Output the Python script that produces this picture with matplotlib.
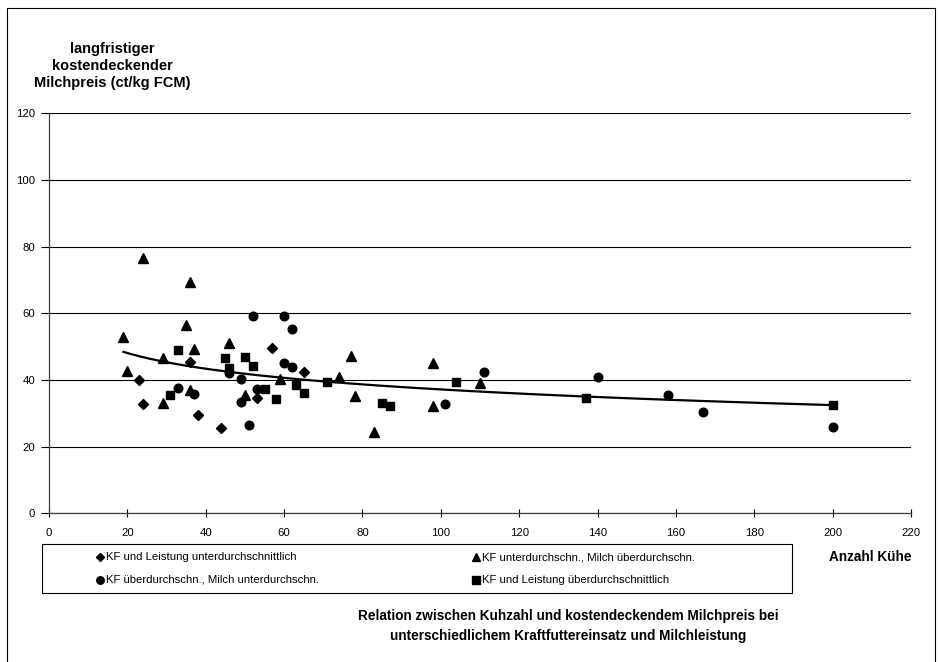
import numpy as np
import matplotlib
matplotlib.use("Agg")
import matplotlib.pyplot as plt
from matplotlib.patches import Rectangle
from matplotlib.lines import Line2D

plt.rcParams['font.family'] = ['Liberation Sans', 'DejaVu Sans']

# ---------------- data ----------------
series_names = [
    "KF und Leistung unterdurchschnittlich",
    "KF überdurchschn., Milch unterdurchschn.",
    "KF unterdurchschn., Milch überdurchschn.",
    "KF und Leistung überdurchschnittlich",
]

diamond_x = [23, 24, 36, 38, 44, 53, 57, 65]
diamond_y = [40.0, 32.7, 45.4, 29.5, 25.5, 34.5, 49.5, 42.3]

triangle_x = [19, 20, 24, 29, 29, 35, 36, 37, 36, 46, 50, 59, 74, 77, 78, 83, 98, 98, 110]
triangle_y = [53.0, 42.8, 76.5, 46.5, 33.0, 56.5, 69.3, 49.2, 37.0, 51.0, 35.5, 40.3,
              40.8, 47.2, 35.2, 24.3, 45.2, 32.3, 39.0]

circle_x = [33, 37, 46, 49, 49, 51, 52, 53, 60, 60, 62, 62, 101, 111, 140, 158, 167, 200]
circle_y = [37.5, 35.8, 42.2, 40.2, 33.5, 26.5, 59.3, 37.2, 59.3, 45.0, 55.3, 44.0,
            32.8, 42.3, 41.0, 35.5, 30.5, 25.8]

square_x = [31, 33, 45, 46, 50, 52, 55, 58, 63, 65, 71, 85, 87, 104, 137, 200]
square_y = [35.5, 49.0, 46.5, 43.5, 46.8, 44.2, 37.2, 34.3, 38.5, 36.2, 39.5, 33.2,
            32.3, 39.3, 34.5, 32.5]

x_ticks = list(range(0, 221, 20))
y_ticks = list(range(0, 121, 20))

y_title = "langfristiger\nkostendeckender\nMilchpreis (ct/kg FCM)"
x_title = "Anzahl Kühe"
chart_title = ("Relation zwischen Kuhzahl und kostendeckendem Milchpreis bei\n"
               "unterschiedlichem Kraftfuttereinsatz und Milchleistung")

# ---------------- layout helpers ----------------
W, H = 938, 662
fig = plt.figure(figsize=(W / 100, H / 100), dpi=100)
fig.patch.set_facecolor("white")


def fx(px):
    return px / W


def fy(py):
    return 1 - py / H


# outer chart frame
fig.add_artist(Rectangle((fx(7), fy(720)), fx(935) - fx(7), fy(8) - fy(720),
                         fill=False, edgecolor="black", lw=0.8,
                         transform=fig.transFigure))

left, right, top, bottom = 49, 911, 113.3, 513.3
ax = fig.add_axes([fx(left), fy(bottom), (right - left) / W, (bottom - top) / H])

ax.set_xlim(0, 220)
ax.set_ylim(0, 120)
ax.set_xticks(x_ticks)
ax.set_yticks(y_ticks)
ax.set_xticklabels([str(v) for v in x_ticks])
ax.set_yticklabels([str(v) for v in y_ticks])
ax.yaxis.grid(True, color="black", lw=0.8)
ax.set_axisbelow(True)
for s in ("top", "right"):
    ax.spines[s].set_visible(False)
for s in ("left", "bottom"):
    ax.spines[s].set_color("#404040")
    ax.spines[s].set_linewidth(0.9)
ax.tick_params(axis="x", direction="inout", length=6, width=0.8, pad=7.5,
               labelsize=8.2, colors="black")
ax.tick_params(axis="y", direction="out", length=5.5, width=0.8, pad=4.5,
               labelsize=8.2, colors="black")

ms = dict(color="black", linestyle="none")
ax.plot(diamond_x, diamond_y, marker="D", markersize=5.2, **ms, zorder=3)
ax.plot(triangle_x, triangle_y, marker="^", markersize=7.0, **ms, zorder=3)
ax.plot(circle_x, circle_y, marker="o", markersize=6.2, **ms, zorder=3)
ax.plot(square_x, square_y, marker="s", markersize=6.0, **ms, zorder=3)

# logarithmic trend line over all points
all_x = np.array(diamond_x + triangle_x + circle_x + square_x, dtype=float)
all_y = np.array(diamond_y + triangle_y + circle_y + square_y, dtype=float)
b, a = np.polyfit(np.log(all_x), all_y, 1)
xs = np.linspace(all_x.min(), all_x.max(), 300)
ax.plot(xs, a + b * np.log(xs), color="black", lw=1.6, zorder=4)

# titles
fig.text(fx(112), fy(66), y_title, ha="center", va="center", fontsize=10.5,
         fontweight="bold", linespacing=1.27)
fig.text(fx(870), fy(557), x_title, ha="center", va="center", fontsize=9.8,
         fontweight="bold")
fig.text(fx(568), fy(626), chart_title, ha="center", va="center", fontsize=9.8,
         fontweight="bold", linespacing=1.55)

# legend box
lx0, ly0, lx1, ly1 = 42, 544, 792, 593
fig.add_artist(Rectangle((fx(lx0), fy(ly1)), fx(lx1) - fx(lx0), fy(ly0) - fy(ly1),
                         fill=False, edgecolor="black", lw=0.8,
                         transform=fig.transFigure))
leg_items = [
    (series_names[0], "D", 4.2, 100, 557),
    (series_names[1], "o", 5.4, 100, 580),
    (series_names[2], "^", 5.8, 476, 557),
    (series_names[3], "s", 5.2, 476, 580),
]
for name, mk, msz, px, py in leg_items:
    fig.add_artist(Line2D([fx(px)], [fy(py)], marker=mk, markersize=msz,
                          color="black", linestyle="none",
                          transform=fig.transFigure))
    fig.text(fx(px + 6), fy(py), name, ha="left", va="center", fontsize=8.2)

fig.savefig("out.png", dpi=100)
